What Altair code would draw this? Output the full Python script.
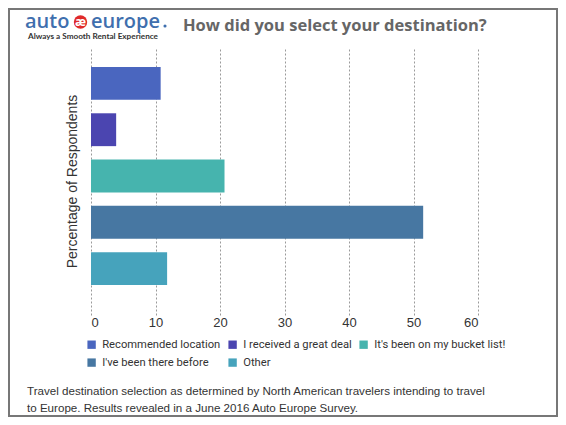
import altair as alt
import pandas as pd

categories = ["Recommended location", "I received a great deal", "It's been on my bucket list!",
              "I've been there before", "Other"]
values = [10.8, 3.9, 20.7, 51.5, 11.8]
colors = ["#4a66bf", "#4b45b0", "#46b4ae", "#4777a2", "#46a3bc"]
x_ticks = [0, 10, 20, 30, 40, 50, 60]

title_text = "How did you select your destination?"
y_title = "Percentage of Respondents"
caption = ["Travel destination selection as determined by North American travelers intending to travel",
           "to Europe. Results revealed in a June 2016 Auto Europe Survey."]

df = pd.DataFrame({"category": categories, "value": values})

bars = alt.Chart(df).mark_bar().encode(
    x=alt.X("value:Q", scale=alt.Scale(domain=[0, 60], nice=False),
            axis=alt.Axis(values=x_ticks, title=None, domain=False, ticks=False, grid=True,
                          gridDash=[2, 2], gridColor="#9a9a9a", labelFontSize=13,
                          labelColor="#333333", labelFont="Liberation Sans", labelPadding=1)),
    y=alt.Y("category:N", sort=None,
            scale=alt.Scale(paddingInner=0.29, paddingOuter=0.54, align=0.4),
            axis=alt.Axis(labels=False, ticks=False, domain=False, title=y_title,
                          titleFontSize=14, titleColor="#333333", titleFontWeight="normal",
                          titleFont="Liberation Sans", titlePadding=12)),
    color=alt.Color("category:N", sort=None,
                    scale=alt.Scale(domain=categories, range=colors),
                    legend=alt.Legend(title=None, orient="none", legendX=-5, legendY=292,
                                      direction="horizontal",
                                      columns=3, symbolType="square", symbolSize=70,
                                      symbolStrokeWidth=0, labelFontSize=11.2,
                                      labelFont="Roboto", labelFontWeight="normal",
                                      labelColor="#333333",
                                      rowPadding=6, columnPadding=6, labelOffset=5,
                                      padding=0)),
)

one = alt.Data(values=[{}])

def txt(text, x, y, size, color, weight="normal", font="Liberation Sans", align="left", baseline="alphabetic"):
    return alt.Chart(one).mark_text(text=text, fontSize=size, color=color, fontWeight=weight,
                                    font=font, align=align, baseline=baseline).encode(
        x=alt.value(x), y=alt.value(y))

border = alt.Chart(one).mark_rect(fill=None, stroke="#777777", strokeWidth=2).encode(
    x=alt.value(-82), x2=alt.value(466), y=alt.value(-38), y2=alt.value(369))

BLUE = "#3f6fae"
logo_auto = txt("auto", -66, -19, 20, BLUE, weight=600, font="Open Sans")
logo_circle = alt.Chart(one).mark_circle(color="#e02a2a", opacity=1, size=180).encode(
    x=alt.value(-10.5), y=alt.value(-25))
logo_ae = txt("æ", -10.5, -25, 12, "white", weight="bold", font="Open Sans", align="center", baseline="middle")
logo_europe = txt("europe", 0, -19, 20, BLUE, weight=600, font="Open Sans")
logo_dot = alt.Chart(one).mark_circle(color=BLUE, opacity=1, size=10).encode(
    x=alt.value(74), y=alt.value(-21))
tagline = txt("Always a Smooth Rental Experience", -63, -8.5, 8.2, "#333333", weight="bold", font="Lato")
title = txt(title_text, 92, -16, 16.5, "#666666", weight="bold", font="Open Sans")
cap1 = txt(caption[0], -64, 348, 11.6, "#333333")
cap2 = txt(caption[1], -64, 365, 11.6, "#333333")

chart = alt.layer(bars, border, logo_auto, logo_circle, logo_ae, logo_europe, logo_dot,
                  tagline, title, cap1, cap2).properties(
    width=387, height=268,
    autosize=alt.AutoSizeParams(type="none"),
    padding={"left": 83, "top": 39, "right": 80, "bottom": 102},
).configure_view(stroke=None)

chart.save("out.html", embed_options={"renderer": "svg", "actions": False})
